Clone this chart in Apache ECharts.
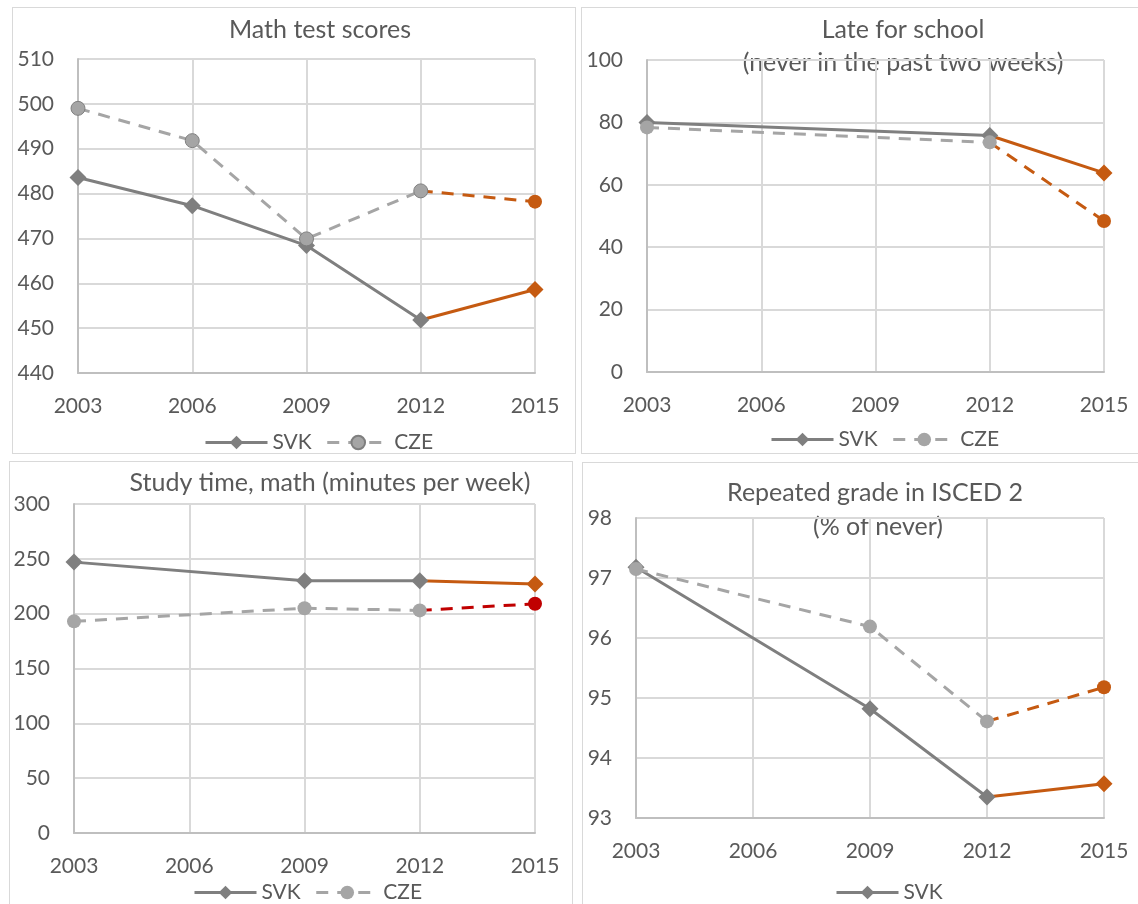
<!DOCTYPE html>
<html>
<head>
<meta charset="utf-8">
<script src="https://cdn.jsdelivr.net/npm/echarts@6/dist/echarts.min.js"></script>
<style>
html, body { margin: 0; padding: 0; background: #fff; width: 1138px; height: 904px; overflow: hidden; position: relative; }
.panel { position: absolute; border: 1px solid #d9d9d9; }
</style>
</head>
<body>
<div id="p1" class="panel" style="left:12px;top:7px;width:562px;height:445px"></div>
<div id="p2" class="panel" style="left:581px;top:7px;width:560px;height:445px"></div>
<div id="p3" class="panel" style="left:9px;top:461px;width:562px;height:458px"></div>
<div id="p4" class="panel" style="left:582px;top:462px;width:560px;height:458px"></div>
<script>
// data
var years = ['2003', '2006', '2009', '2012', '2015'];

var mathSVK = [483.6, 477.3, 468.4, 451.8, 458.6];
var mathCZE = [499.0, 491.8, 469.9, 480.6, 478.2];
var mathTicks = [440, 510, 10];

var lateSVK = [80.0, null, null, 75.8, 63.8];
var lateCZE = [78.4, null, null, 73.6, 48.4];
var lateTicks = [0, 100, 20];

var studySVK = [247, null, 230, 230, 227];
var studyCZE = [193, null, 205, 203, 209];
var studyTicks = [0, 300, 50];

var repeatSVK = [97.18, null, 94.82, 93.35, 93.57];
var repeatCZE = [97.15, null, 96.19, 94.61, 95.18];
var repeatTicks = [93, 98, 1];

var FONT = 'Lato, "Open Sans", sans-serif';
var TXT = '#595959';
var GREY_D = '#7f7f7f';
var GREY_L = '#a5a5a5';
var ORANGE = '#c55a11';
var RED = '#c00000';

// up to 2012 grey, 2012 -> 2015 coloured
function head(arr) {
    return arr.map(function (v, i) { return i <= 3 ? v : null; });
}
function tail(arr) {
    return arr.map(function (v, i) {
        if (i < 3) return null;
        if (i === 3) return { value: v, symbol: 'none' };
        return v;
    });
}

function makeChart(id, cfg) {
    var chart = echarts.init(document.getElementById(id));
    var svk = cfg.svk, cze = cfg.cze;
    var czeTail = cfg.czeTail || ORANGE;

    chart.setOption({
        animation: false,
        graphic: cfg.titles.map(function (t) {
            return {
                type: 'text',
                x: t[1], y: t[2],
                style: {
                    text: t[0],
                    font: '25px ' + FONT,
                    fill: TXT,
                    textAlign: 'center',
                    textVerticalAlign: 'middle'
                }
            };
        }),
        legend: {
            data: cfg.legend,
            left: cfg.legendPos[0],
            top: cfg.legendPos[1],
            itemWidth: 62,
            itemHeight: 17,
            itemGap: 14,
            lineStyle: { width: 3 },
            textStyle: { fontFamily: FONT, fontSize: 21, color: TXT }
        },
        grid: cfg.grid,
        xAxis: {
            type: 'category',
            data: years,
            boundaryGap: false,
            axisTick: { show: false },
            axisLine: { lineStyle: { color: '#bfbfbf', width: 2 } },
            splitLine: { show: true, lineStyle: { color: '#d9d9d9', width: 2 } },
            axisLabel: { fontFamily: FONT, fontSize: 21, color: TXT, margin: 23 }
        },
        yAxis: {
            type: 'value',
            min: cfg.ticks[0],
            max: cfg.ticks[1],
            interval: cfg.ticks[2],
            axisTick: { show: false },
            axisLine: { show: true, lineStyle: { color: '#bfbfbf', width: 2 } },
            splitLine: { lineStyle: { color: '#d9d9d9', width: 2 } },
            axisLabel: { fontFamily: FONT, fontSize: 21, color: TXT, margin: 24 }
        },
        series: [
            {
                name: 'SVK', type: 'line', data: head(svk), connectNulls: true,
                symbol: 'diamond', symbolSize: 17, z: 3,
                lineStyle: { color: GREY_D, width: 3 },
                itemStyle: { color: GREY_D }
            },
            {
                name: 'SVK 2015', type: 'line', data: tail(svk),
                symbol: 'diamond', symbolSize: 17, z: 2,
                lineStyle: { color: ORANGE, width: 3 },
                itemStyle: { color: ORANGE }
            },
            {
                name: 'CZE', type: 'line', data: head(cze), connectNulls: true,
                symbol: 'circle', symbolSize: 14, z: 3,
                lineStyle: { color: GREY_L, width: 3, type: [12, 9] },
                itemStyle: cfg.czeBorder
                    ? { color: GREY_L, borderColor: GREY_D, borderWidth: 1 }
                    : { color: GREY_L }
            },
            {
                name: 'CZE 2015', type: 'line', data: tail(cze),
                symbol: 'circle', symbolSize: 14, z: 2,
                lineStyle: { color: czeTail, width: 3, type: [12, 9] },
                itemStyle: { color: czeTail }
            }
        ]
    });
}

makeChart('p1', {
    svk: mathSVK, cze: mathCZE, ticks: mathTicks, czeBorder: true,
    titles: [['Math test scores', 307, 22]],
    legend: ['SVK', 'CZE'], legendPos: [186, 419],
    grid: { left: 65, right: 40, top: 51, bottom: 80 }
});

makeChart('p2', {
    svk: lateSVK, cze: lateCZE, ticks: lateTicks,
    titles: [['Late for school', 321, 22], ['(never in the past two weeks)', 321, 55]],
    legend: ['SVK', 'CZE'], legendPos: [183, 416],
    grid: { left: 65, right: 38, top: 52, bottom: 81 }
});

makeChart('p3', {
    svk: studySVK, cze: studyCZE, ticks: studyTicks, czeTail: RED,
    titles: [['Study time, math (minutes per week)', 320, 21]],
    legend: ['SVK', 'CZE'], legendPos: [178, 415],
    grid: { left: 64, right: 37, top: 42, bottom: 87 }
});

makeChart('p4', {
    svk: repeatSVK, cze: repeatCZE, ticks: repeatTicks,
    titles: [['Repeated grade in ISCED 2', 292, 30], ['(% of never)', 295, 64]],
    legend: ['SVK'], legendPos: [247, 414],
    grid: { left: 53, right: 39, top: 55, bottom: 103 }
});
</script>
</body>
</html>
